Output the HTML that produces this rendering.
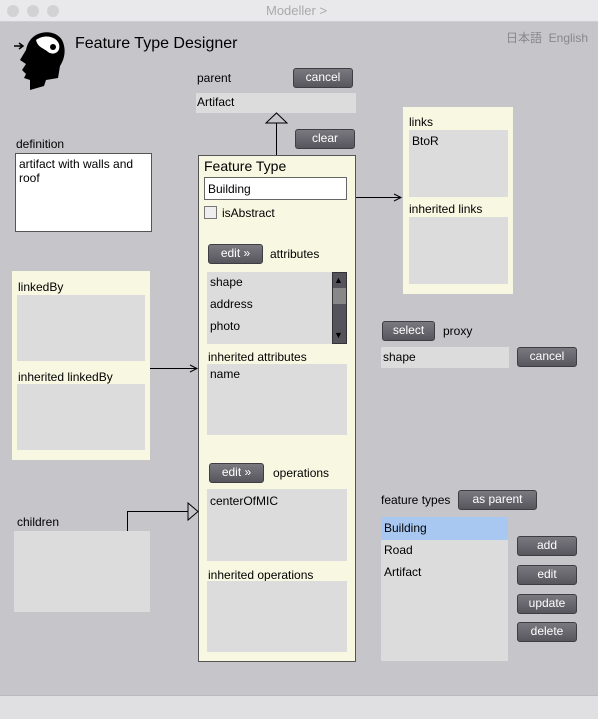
<!DOCTYPE html>
<html><head><meta charset="utf-8"><style>
*{margin:0;padding:0;box-sizing:border-box}
body{width:598px;height:719px;background:#c6c5ca;font-family:"Liberation Sans",Arial,sans-serif;font-size:12px;color:#000;position:relative;overflow:hidden}
.a{position:absolute}
.t{position:absolute;white-space:nowrap;line-height:14px}
.btn{position:absolute;background:linear-gradient(#7a7980,#57565d);border:1px solid #3e3d44;border-radius:3px;color:#fff;text-align:center;font-size:12px;line-height:17px}
.box{position:absolute;background:#dcdcdc}
.pan{position:absolute;background:#f7f7e2}
</style></head><body>
<div class="a" style="left:0;top:0;width:598px;height:22px;background:#e9e8ea;border-bottom:1px solid #cfcfcf"></div>
<div class="a" style="left:7px;top:5px;width:12px;height:12px;border-radius:6px;background:#d2d1d3"></div>
<div class="a" style="left:27px;top:5px;width:12px;height:12px;border-radius:6px;background:#d2d1d3"></div>
<div class="a" style="left:47px;top:5px;width:12px;height:12px;border-radius:6px;background:#d2d1d3"></div>
<div class="t" style="left:266px;top:4px;font-size:13px;color:#aaa">Modeller &gt;</div>

<svg class="a" style="left:12px;top:28px" width="54" height="64" viewBox="0 0 54 64">
<path d="M20 10 C28 2 44 2 50 12 C55 22 52 32 48 38 L46 50 L34 52 L32 58 L18 62 L18 52 L12 50 L14 46 L10 42 L14 36 L8 32 L14 22 C15 17 17 13 20 10Z" fill="#000"/>
<path d="M24 12 C32 6 44 8 47 16 C49 24 42 28 36 24 C32 20 26 20 24 12Z" fill="#fff"/>
<circle cx="41" cy="19" r="3" fill="#000"/>
<path d="M2 18 L10 18 M7 15 L11 18 L7 21" stroke="#000" stroke-width="1.5" fill="none"/>
</svg>
<div class="t" style="left:75px;top:37px;font-size:16px">Feature Type Designer</div>
<div class="t" style="left:506px;top:31px;color:#888;font-size:12px;font-family:'Liberation Sans','Noto Sans CJK JP',sans-serif">日本語&nbsp; English</div>

<div class="t" style="left:197px;top:71px">parent</div>
<div class="btn" style="left:293px;top:68px;width:60px;height:20px">cancel</div>
<div class="box" style="left:196px;top:93px;width:160px;height:20px"></div>
<div class="t" style="left:197px;top:95px">Artifact</div>
<div class="btn" style="left:295px;top:129px;width:60px;height:20px">clear</div>

<div class="t" style="left:16px;top:137px">definition</div>
<div class="a" style="left:15px;top:153px;width:137px;height:79px;background:#fff;border:1px solid #555"></div>
<div class="t" style="left:19px;top:157px;width:130px;white-space:normal">artifact with walls and roof</div>

<div class="pan" style="left:198px;top:155px;width:158px;height:507px;border:1px solid #555"></div>
<div class="t" style="left:204px;top:159px;font-size:14px">Feature Type</div>
<div class="a" style="left:204px;top:177px;width:143px;height:23px;background:#fff;border:1px solid #666"></div>
<div class="t" style="left:208px;top:182px">Building</div>
<div class="a" style="left:204px;top:206px;width:13px;height:13px;background:#eee;border:1px solid #777"></div>
<div class="t" style="left:222px;top:206px">isAbstract</div>
<div class="btn" style="left:208px;top:244px;width:55px;height:20px">edit »</div>
<div class="t" style="left:270px;top:247px">attributes</div>
<div class="box" style="left:207px;top:272px;width:140px;height:72px"></div>
<div class="t" style="left:210px;top:275px">shape</div>
<div class="t" style="left:210px;top:297px">address</div>
<div class="t" style="left:210px;top:319px">photo</div>
<div class="a" style="left:332px;top:272px;width:15px;height:72px;background:#55545c;border:1px solid #333"></div>
<div class="a" style="left:333px;top:288px;width:13px;height:16px;background:#888"></div>
<div class="t" style="left:334px;top:273px;font-size:9px">▲</div>
<div class="t" style="left:334px;top:328px;font-size:9px">▼</div>
<div class="t" style="left:208px;top:350px">inherited attributes</div>
<div class="box" style="left:207px;top:364px;width:140px;height:71px"></div>
<div class="t" style="left:210px;top:367px">name</div>
<div class="btn" style="left:209px;top:463px;width:55px;height:20px">edit »</div>
<div class="t" style="left:273px;top:466px">operations</div>
<div class="box" style="left:207px;top:489px;width:140px;height:72px"></div>
<div class="t" style="left:210px;top:494px">centerOfMIC</div>
<div class="t" style="left:208px;top:568px">inherited operations</div>
<div class="box" style="left:207px;top:581px;width:140px;height:71px"></div>

<div class="pan" style="left:403px;top:107px;width:110px;height:187px"></div>
<div class="t" style="left:409px;top:115px">links</div>
<div class="box" style="left:409px;top:130px;width:99px;height:67px"></div>
<div class="t" style="left:412px;top:134px">BtoR</div>
<div class="t" style="left:409px;top:202px">inherited links</div>
<div class="box" style="left:409px;top:217px;width:99px;height:67px"></div>

<div class="pan" style="left:12px;top:271px;width:138px;height:189px"></div>
<div class="t" style="left:18px;top:280px">linkedBy</div>
<div class="box" style="left:17px;top:295px;width:128px;height:66px"></div>
<div class="t" style="left:18px;top:370px">inherited linkedBy</div>
<div class="box" style="left:17px;top:384px;width:128px;height:66px"></div>

<div class="btn" style="left:382px;top:321px;width:53px;height:20px">select</div>
<div class="t" style="left:443px;top:324px">proxy</div>
<div class="box" style="left:381px;top:347px;width:128px;height:21px"></div>
<div class="t" style="left:383px;top:350px">shape</div>
<div class="btn" style="left:517px;top:347px;width:60px;height:20px">cancel</div>

<div class="t" style="left:17px;top:515px">children</div>
<div class="box" style="left:14px;top:531px;width:136px;height:81px"></div>

<div class="t" style="left:381px;top:493px">feature types</div>
<div class="btn" style="left:458px;top:490px;width:79px;height:20px">as parent</div>
<div class="box" style="left:381px;top:517px;width:127px;height:144px"></div>
<div class="a" style="left:381px;top:517px;width:127px;height:23px;background:#a9c8f1"></div>
<div class="t" style="left:384px;top:521px">Building</div>
<div class="t" style="left:384px;top:543px">Road</div>
<div class="t" style="left:384px;top:565px">Artifact</div>
<div class="btn" style="left:517px;top:536px;width:60px;height:20px">add</div>
<div class="btn" style="left:517px;top:565px;width:60px;height:20px">edit</div>
<div class="btn" style="left:517px;top:594px;width:60px;height:20px">update</div>
<div class="btn" style="left:517px;top:622px;width:60px;height:20px">delete</div>

<svg class="a" style="left:0;top:0" width="598" height="719">
<g stroke="#000" stroke-width="1" fill="none">
<path d="M276.5 123 V155"/>
<path d="M266 123 L276.5 113 L287 123 Z" fill="#c6c5ca"/>
<path d="M356 197.5 H400"/><path d="M394 194 L401 197.5 L394 201"/>
<path d="M150 368.5 H196"/><path d="M190 365 L197 368.5 L190 372"/>
<path d="M127.5 531 V511.5 H188"/>
<path d="M188 503 L198 511.5 L188 520 Z" fill="#c6c5ca"/>
</g></svg>

<div class="a" style="left:0;top:695px;width:598px;height:24px;background:#e0dfe2;border-top:1px solid #bbb"></div>
</body></html>
